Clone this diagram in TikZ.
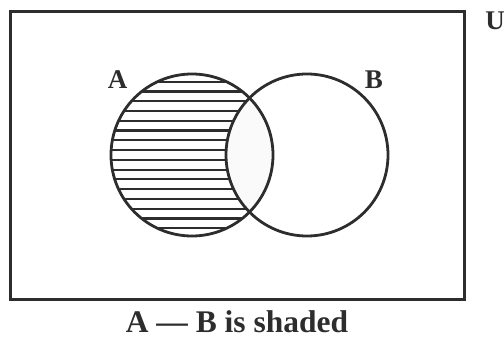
\documentclass[tikz,border=0pt]{standalone}
\usepackage{fontspec}
\setmainfont{Liberation Serif}
\usepackage{tikz}
\definecolor{LineGray}{RGB}{45, 45, 45}
\definecolor{LensGray}{RGB}{250, 250, 250}
\tikzset{
  setlabel/.style={font=\bfseries\fontsize{27}{30}\selectfont, text=LineGray, inner sep=0pt, anchor=base},
}

\begin{document}
\begin{tikzpicture}[x=1pt, y=-1pt]
    \useasboundingbox (0,0) rectangle (504,339);
    % universe
    \draw[LineGray, line width=3pt] (10,12) rectangle (464,300);
    % hatch A only
    \begin{scope}
      \clip (192,155) circle (81);
      \foreach \i in {0,...,15} {
        \draw[LineGray, line width=2.2pt] (100, 81.7+\i*9.77) -- (290, 81.7+\i*9.77);
      }
      \fill[LensGray] (307,155) circle (81);
    \end{scope}
    \draw[LineGray, line width=2.8pt] (192,155) circle (81);
    \draw[LineGray, line width=2.8pt] (307,155) circle (81);
    \node[setlabel] (labA) at (117.5,89) {A};
    \node[setlabel] (labB) at (374,89) {B};
    \node[setlabel] (labU) at (495,30) {U};
    \node[setlabel, font=\bfseries\fontsize{31.5}{34}\selectfont] (caption) at (237,333) {A --- B is shaded};
  \end{tikzpicture}
\end{document}
